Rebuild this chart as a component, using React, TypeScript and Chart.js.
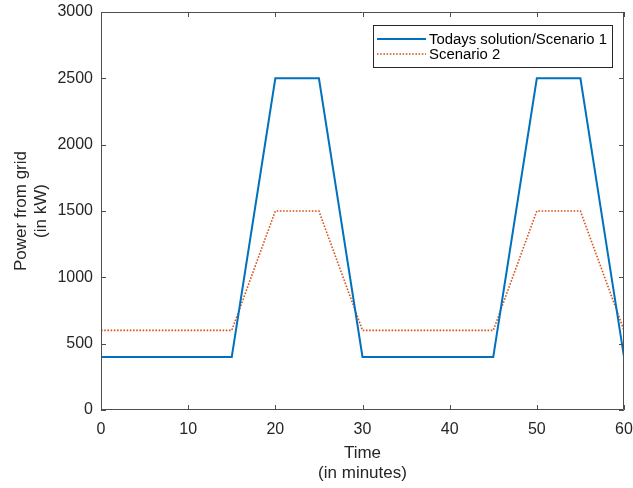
import React, { useEffect, useRef } from "react";
import { Chart, registerables } from "chart.js";

Chart.register(...registerables);

const timePoints = [0, 15, 20, 25, 30, 45, 50, 55, 60];
const scenario1 = [400, 400, 2500, 2500, 400, 400, 2500, 2500, 400];
const scenario2 = [600, 600, 1500, 1500, 600, 600, 1500, 1500, 600];
const seriesLabels = ["Todays solution/Scenario 1", "Scenario 2"];
const xTitle = ["Time", "(in minutes)"];
const yTitle = ["Power from grid", "(in kW)"];

const FONT = "'Liberation Sans', Arial, Helvetica, sans-serif";
const AXIS_COLOR = "#4d4d4d";
const TEXT_COLOR = "#262626";

const boxPlugin = {
  id: "matlabBox",
  afterDatasetsDraw(chart: any) {
    const { ctx, chartArea, scales } = chart;
    const { left, right, top, bottom } = chartArea;
    ctx.save();
    ctx.strokeStyle = AXIS_COLOR;
    ctx.lineWidth = 1;
    ctx.beginPath();
    ctx.rect(left + 0.5, top + 0.5, right - left - 1, bottom - top - 1);
    ctx.stroke();
    const tl = 5;
    ctx.beginPath();
    scales.x.ticks.forEach((t: any) => {
      const px = Math.round(scales.x.getPixelForValue(t.value)) + 0.5;
      ctx.moveTo(px, bottom);
      ctx.lineTo(px, bottom - tl);
      ctx.moveTo(px, top);
      ctx.lineTo(px, top + tl);
    });
    scales.y.ticks.forEach((t: any) => {
      const py = Math.round(scales.y.getPixelForValue(t.value)) + 0.5;
      ctx.moveTo(left, py);
      ctx.lineTo(left + tl, py);
      ctx.moveTo(right, py);
      ctx.lineTo(right - tl, py);
    });
    ctx.stroke();

    // legend
    const lx = 373.5, ly = 25.5, lw = 239, lh = 42;
    ctx.fillStyle = "#ffffff";
    ctx.fillRect(lx, ly, lw, lh);
    ctx.strokeStyle = TEXT_COLOR;
    ctx.lineWidth = 1;
    ctx.strokeRect(lx, ly, lw, lh);
    const rows = [39, 54];
    chart.data.datasets.forEach((ds: any, i: number) => {
      const y = rows[i];
      ctx.save();
      ctx.strokeStyle = ds.borderColor;
      ctx.lineWidth = ds.borderWidth;
      ctx.setLineDash(ds.borderDash || []);
      ctx.beginPath();
      ctx.moveTo(377, y);
      ctx.lineTo(426, y);
      ctx.stroke();
      ctx.restore();
      ctx.fillStyle = "#000000";
      ctx.font = `14.9px ${FONT}`;
      ctx.textAlign = "left";
      ctx.textBaseline = "middle";
      ctx.fillText(ds.label, 429, y + 0.5);
    });
    ctx.restore();
  },
};

export default function App() {
  const ref = useRef<HTMLCanvasElement>(null);
  useEffect(() => {
    document.body.style.margin = "0";
    const canvas = ref.current;
    if (!canvas) return;
    const chart = new Chart(canvas, {
      type: "line",
      data: {
        datasets: [
          {
            label: seriesLabels[0],
            data: timePoints.map((t, i) => ({ x: t, y: scenario1[i] })),
            borderColor: "#0072BD",
            borderWidth: 2,
            pointRadius: 0,
            fill: false,
            tension: 0,
          },
          {
            label: seriesLabels[1],
            data: timePoints.map((t, i) => ({ x: t, y: scenario2[i] })),
            borderColor: "#D95319",
            borderWidth: 1.6,
            borderDash: [1.6, 1.6],
            pointRadius: 0,
            fill: false,
            tension: 0,
          },
        ],
      },
      options: {
        animation: false,
        responsive: false,
        layout: { padding: { top: 12, right: 9, left: 0, bottom: 0 } },
        plugins: { legend: { display: false }, tooltip: { enabled: false } },
        scales: {
          x: {
            type: "linear",
            min: 0,
            max: 60,
            grid: { display: false, drawTicks: false },
            border: { display: false },
            ticks: {
              stepSize: 10,
              padding: 10,
              color: TEXT_COLOR,
              font: { family: FONT, size: 16 },
              maxRotation: 0,
              callback: (v: any) => String(v),
            },
            title: {
              display: true,
              text: xTitle,
              color: TEXT_COLOR,
              font: { family: FONT, size: 17, lineHeight: 1.2 },
              padding: { top: 0, bottom: 4 },
            },
            afterFit: (s: any) => {
              s.height = 78;
              s.paddingLeft = 0;
              s.paddingRight = 0;
            },
          },
          y: {
            min: 0,
            max: 3000,
            grid: { display: false, drawTicks: false },
            border: { display: false },
            ticks: {
              stepSize: 500,
              padding: 8,
              color: TEXT_COLOR,
              font: { family: FONT, size: 16 },
              callback: (v: any) => String(v),
            },
            title: {
              display: true,
              text: yTitle,
              color: TEXT_COLOR,
              font: { family: FONT, size: 17, lineHeight: 1.2 },
              padding: { top: 11, bottom: 0 },
            },
            afterFit: (s: any) => {
              s.width = 101;
              s.paddingTop = 0;
              s.paddingBottom = 0;
            },
          },
        },
      },
      plugins: [boxPlugin],
    });
    return () => chart.destroy();
  }, []);
  return (
    <div style={{ width: 633, height: 488, background: "#fff" }}>
      <canvas ref={ref} width={633} height={488} style={{ display: "block" }} />
    </div>
  );
}
